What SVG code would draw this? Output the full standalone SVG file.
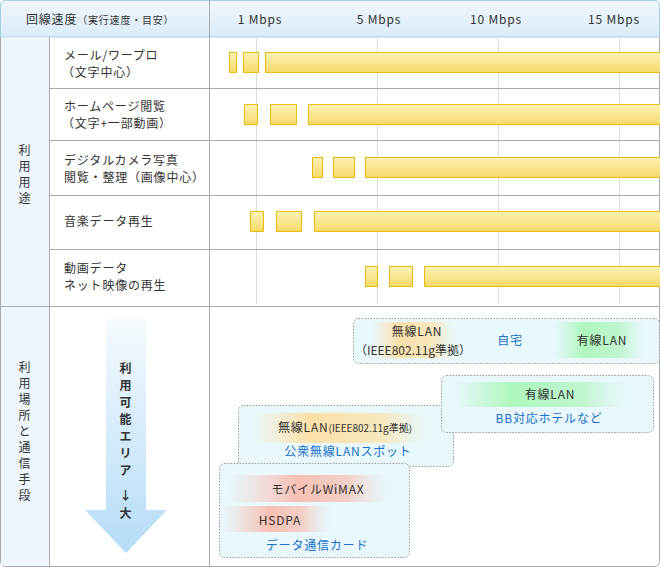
<svg xmlns="http://www.w3.org/2000/svg" width="660" height="567" viewBox="0 0 660 567">
<style>
text{font-family:"Noto Sans CJK JP","Noto Sans",sans-serif;fill:#333;font-size:12px;letter-spacing:0.8px}
.c{text-anchor:middle}
.b{fill:#1a6fc9}
.bar{fill:url(#gy);stroke:#e8bd10;stroke-width:1}
.grid{stroke:#ddd;stroke-width:1}
.row{stroke:#aaa;stroke-width:1}
.box{fill:#e8f8fc;stroke:#999;stroke-dasharray:1.5 1.5;stroke-width:1}
</style>
<defs>
<linearGradient id="gy" x1="0" y1="0" x2="0" y2="1"><stop offset="0" stop-color="#fdf3b5"/><stop offset="1" stop-color="#f7d96a"/></linearGradient>
<linearGradient id="gh" x1="0" y1="0" x2="0" y2="1"><stop offset="0" stop-color="#f0f7fd"/><stop offset="1" stop-color="#daebf8"/></linearGradient>
<linearGradient id="ga" x1="0" y1="0" x2="0" y2="1"><stop offset="0" stop-color="#f5fafd"/><stop offset="1" stop-color="#b5dcf8"/></linearGradient>
<linearGradient id="go" x1="0" y1="0" x2="1" y2="0"><stop offset="0" stop-color="#fde3b0" stop-opacity="0"/><stop offset="0.3" stop-color="#fde0a8"/><stop offset="0.7" stop-color="#f6e8c0"/><stop offset="1" stop-color="#e8f8fc" stop-opacity="0"/></linearGradient>
<linearGradient id="gg" x1="0" y1="0" x2="1" y2="0"><stop offset="0" stop-color="#b0f5c0" stop-opacity="0"/><stop offset="0.3" stop-color="#aef8bd"/><stop offset="0.7" stop-color="#c0f5d0"/><stop offset="1" stop-color="#e8f8fc" stop-opacity="0"/></linearGradient>
<linearGradient id="gr" x1="0" y1="0" x2="1" y2="0"><stop offset="0" stop-color="#f5c8c0" stop-opacity="0"/><stop offset="0.4" stop-color="#f8c0b5"/><stop offset="0.7" stop-color="#f2d0c8"/><stop offset="1" stop-color="#e8f8fc" stop-opacity="0"/></linearGradient>
</defs>
<g id="frame">
<rect x="0.5" y="0.5" width="659" height="566" rx="5" fill="#fff" stroke="#aaa"/>
<path d="M0.5 37 V5.5 a5 5 0 0 1 5 -5 H654.5 a5 5 0 0 1 5 5 V37 Z" fill="url(#gh)" stroke="#a8cde6"/>
<rect x="1" y="37.5" width="48" height="528" fill="#eef6fd"/>
<line x1="49.5" y1="37" x2="49.5" y2="566" class="row"/>
<line x1="209.5" y1="0" x2="209.5" y2="566" class="row"/>
<g class="grid"><line x1="256.5" y1="37" x2="256.5" y2="305"/><line x1="377.5" y1="37" x2="377.5" y2="305"/><line x1="498.5" y1="37" x2="498.5" y2="305"/><line x1="619.5" y1="37" x2="619.5" y2="305"/></g>
<g class="row"><line x1="49" y1="88.5" x2="660" y2="88.5"/><line x1="49" y1="140.5" x2="660" y2="140.5"/><line x1="49" y1="195.5" x2="660" y2="195.5"/><line x1="49" y1="249.5" x2="660" y2="249.5"/><line x1="0" y1="306.5" x2="660" y2="306.5"/></g>
</g>
<g id="header">
<text x="26" y="24">回線速度<tspan font-size="10">（実行速度・目安）</tspan></text>
<text x="260" y="24" class="c">1 Mbps</text>
<text x="379" y="24" class="c">5 Mbps</text>
<text x="496" y="24" class="c">10 Mbps</text>
<text x="614" y="24" class="c">15 Mbps</text>
</g>
<g id="cat1"><text class="c" x="25" y="155">利</text><text class="c" x="25" y="171">用</text><text class="c" x="25" y="187">用</text><text class="c" x="25" y="203">途</text></g>
<g id="cat2"><text class="c" x="25" y="372">利</text><text class="c" x="25" y="388">用</text><text class="c" x="25" y="404">場</text><text class="c" x="25" y="420">所</text><text class="c" x="25" y="436">と</text><text class="c" x="25" y="452">通</text><text class="c" x="25" y="468">信</text><text class="c" x="25" y="484">手</text><text class="c" x="25" y="500">段</text></g>
<g id="r1"><text x="64" y="60">メール/ワープロ</text><text x="62" y="77">（文字中心）</text>
<rect class="bar" x="229.5" y="52.5" width="7" height="20"/><rect class="bar" x="243.5" y="52.5" width="15" height="20"/><rect class="bar" x="265.5" y="52.5" width="395" height="20"/></g>
<g id="r2"><text x="64" y="111">ホームページ閲覧</text><text x="62" y="128">（文字+一部動画）</text>
<rect class="bar" x="244.5" y="104.5" width="13" height="20"/><rect class="bar" x="270.5" y="104.5" width="26" height="20"/><rect class="bar" x="308.5" y="104.5" width="352" height="20"/></g>
<g id="r3"><text x="64" y="165">デジタルカメラ写真</text><text x="64" y="182">閲覧・整理（画像中心）</text>
<rect class="bar" x="312.5" y="157.5" width="10" height="20"/><rect class="bar" x="333.5" y="157.5" width="21" height="20"/><rect class="bar" x="365.5" y="157.5" width="295" height="20"/></g>
<g id="r4"><text x="64" y="226">音楽データ再生</text>
<rect class="bar" x="250.5" y="211.5" width="13" height="20"/><rect class="bar" x="276.5" y="211.5" width="25" height="20"/><rect class="bar" x="314.5" y="211.5" width="346" height="20"/></g>
<g id="r5"><text x="64" y="273">動画データ</text><text x="64" y="290">ネット映像の再生</text>
<rect class="bar" x="365.5" y="266.5" width="12" height="20"/><rect class="bar" x="389.5" y="266.5" width="23" height="20"/><rect class="bar" x="424.5" y="266.5" width="236" height="20"/></g>
<g id="arrow">
<path d="M106 319 H146 V510 H167 L126 553 L85 510 H106 Z" fill="url(#ga)"/>
<g font-weight="bold"><text class="c" x="126" y="373">利</text><text class="c" x="126" y="390">用</text><text class="c" x="126" y="407">可</text><text class="c" x="126" y="424">能</text><text class="c" x="126" y="441">エ</text><text class="c" x="126" y="458">リ</text><text class="c" x="126" y="475">ア</text><text class="c" x="126" y="500">↓</text><text class="c" x="126" y="518">大</text></g>
</g>
<g id="home">
<rect class="box" x="353.5" y="318.5" width="306" height="45" rx="5"/>
<rect x="372" y="322" width="90" height="36" fill="url(#go)"/>
<rect x="555" y="322" width="95" height="36" fill="url(#gg)"/>
<text class="c" x="417" y="336">無線LAN</text><text class="c" x="413" y="355" font-size="10" style="letter-spacing:0">（IEEE802.11g準拠）</text>
<text class="c b" x="510" y="345">自宅</text>
<text class="c" x="602" y="345">有線LAN</text>
</g>
<g id="spot">
<rect class="box" x="238.5" y="405.5" width="215" height="61" rx="5"/>
<rect x="252" y="413" width="190" height="30" fill="url(#go)"/>
<text class="c" x="345" y="432">無線LAN<tspan font-size="10" style="letter-spacing:0">(IEEE802.11g準拠)</tspan></text>
<text class="c b" x="348" y="456">公衆無線LANスポット</text>
</g>
<g id="hotel">
<rect class="box" x="441.5" y="375.5" width="212" height="57" rx="5"/>
<rect x="455" y="382" width="185" height="25" fill="url(#gg)"/>
<text class="c" x="550" y="399">有線LAN</text>
<text class="c b" x="549" y="423">BB対応ホテルなど</text>
</g>
<g id="card">
<rect class="box" x="219.5" y="463.5" width="190" height="94" rx="5"/>
<rect x="228" y="475" width="172" height="27" fill="url(#gr)"/>
<rect x="222" y="506" width="116" height="26" fill="url(#gr)"/>
<text class="c" x="318" y="494">モバイルWiMAX</text>
<text class="c" x="280" y="525">HSDPA</text>
<text class="c b" x="317" y="550">データ通信カード</text>
</g>
</svg>
